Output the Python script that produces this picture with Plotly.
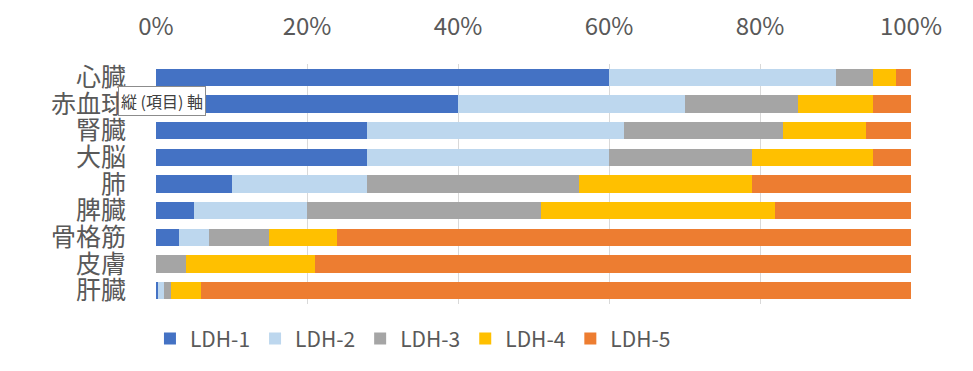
import plotly.graph_objects as go

categories = ["心臓", "赤血球", "腎臓", "大脳", "肺", "脾臓", "骨格筋", "皮膚", "肝臓"]
series_names = ["LDH-1", "LDH-2", "LDH-3", "LDH-4", "LDH-5"]
ldh1 = [60, 40, 28, 28, 10, 5, 3, 0, 0.3]
ldh2 = [30, 30, 34, 32, 18, 15, 4, 0, 0.7]
ldh3 = [5, 15, 21, 19, 28, 31, 8, 4, 1]
ldh4 = [3, 10, 11, 16, 23, 31, 9, 17, 4]
ldh5 = [2, 5, 6, 5, 21, 18, 76, 79, 94]
x_ticks = [0, 20, 40, 60, 80, 100]
colors = ["#4472C4", "#BDD7EE", "#A5A5A5", "#FFC000", "#ED7D31"]

FONT = "Noto Sans CJK JP"
GRAY = "#595959"

fig = go.Figure()
for name, vals, col in zip(series_names, [ldh1, ldh2, ldh3, ldh4, ldh5], colors):
    fig.add_trace(go.Bar(
        y=categories, x=vals, name=name, orientation="h",
        marker=dict(color=col, line=dict(width=0)),
    ))

# page body has an 8px default margin, so the figure is sized to fit inside it
fig.update_layout(
    width=965, height=363,
    barmode="stack", bargap=0.34,
    plot_bgcolor="white", paper_bgcolor="white",
    margin=dict(l=148, r=62, t=56, b=61),
    font=dict(family=FONT, color=GRAY),
    xaxis=dict(
        side="top", range=[0, 100], tickmode="array", tickvals=x_ticks,
        ticktext=[f"{v}%" for v in x_ticks],
        showgrid=True, gridcolor="#D9D9D9", gridwidth=1,
        zeroline=False, showline=False, ticks="",
        tickfont=dict(size=24, color=GRAY, family=FONT),
        ticklabelstandoff=23, automargin=False,
    ),
    yaxis=dict(
        autorange="reversed", showgrid=False, showline=False, ticks="",
        tickmode="array", tickvals=categories, ticktext=categories,
        tickfont=dict(size=25, color=GRAY, family=FONT),
        ticklabelstandoff=29, automargin=False,
    ),
    legend=dict(
        orientation="h", x=-0.008, xanchor="left", y=-0.06, yanchor="top",
        font=dict(size=21, color=GRAY, family=FONT),
        traceorder="normal", itemwidth=30,
    ),
    showlegend=True,
)

fig.add_annotation(
    xref="paper", yref="paper", x=0.0073, y=0.847,
    text="縦 (項目) 軸", showarrow=False,
    font=dict(size=16, color="#404040", family=FONT),
    bgcolor="white", bordercolor="#8C8C8C", borderwidth=1, borderpad=2,
    xanchor="center", yanchor="middle",
)

fig.write_html("out.html")
